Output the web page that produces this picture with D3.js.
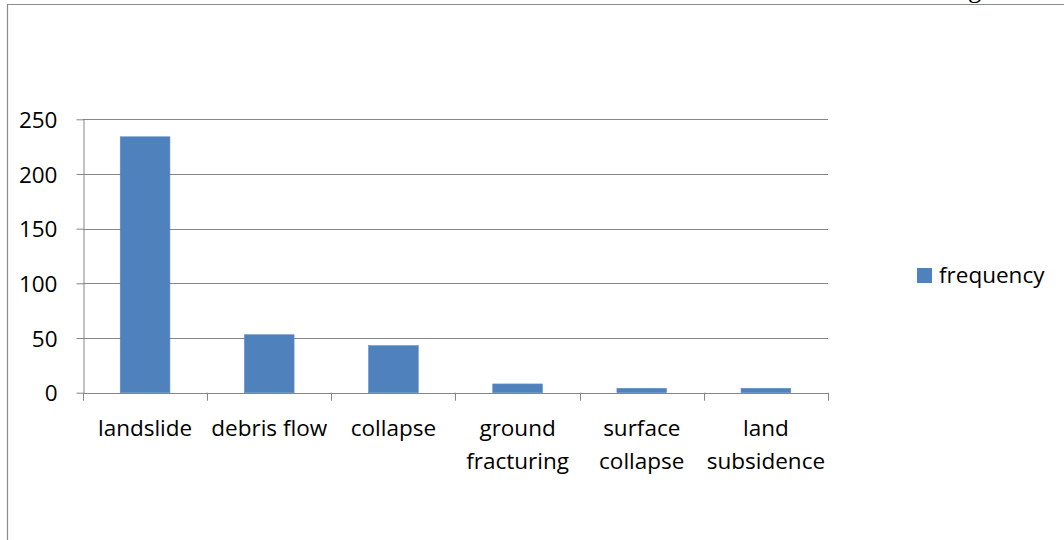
<!DOCTYPE html>
<html>
<head>
<meta charset="utf-8">
<script src="https://cdn.jsdelivr.net/npm/d3@7"></script>
<style>
  body { margin: 0; background: #fff; }
  svg { display: block; }
  text { font-family: "Open Sans", Lato, sans-serif; fill: #000; }
</style>
</head>
<body>
<svg id="chart" width="1064" height="540"></svg>
<script>
// Geohazard counts by type
const categories = ["landslide", "debris flow", "collapse", "ground fracturing", "surface collapse", "land subsidence"];
const frequency = [234, 53, 43, 8, 4, 4];
const yTicks = [0, 50, 100, 150, 200, 250];
const seriesName = "frequency";

const W = 1064, H = 540;
const plot = { left: 83, right: 828, top: 119.3, bottom: 392.7 };
const barColor = "#4f81bd";
const lineColor = "#868686";
const fontSize = 22.5;

const svg = d3.select("#chart");

// Frame lines along the top and left of the chart area
svg.append("path")
  .attr("d", `M7.5,${H} V4.5 H${W}`)
  .attr("fill", "none")
  .attr("stroke", "#8c8c8c")
  .attr("stroke-width", 1.2);

// Fragment of a caption line above the frame
svg.append("text")
  .attr("x", 968).attr("y", -3)
  .style("font-family", "'Liberation Serif', serif")
  .style("font-size", "27px")
  .text("g");

const x = d3.scaleBand()
  .domain(categories)
  .range([plot.left, plot.right])
  .paddingInner(0.6)
  .paddingOuter(0.3);

const y = d3.scaleLinear()
  .domain([0, 250])
  .range([plot.bottom, plot.top]);

// Horizontal gridlines
svg.append("g")
  .selectAll("line")
  .data(yTicks.filter(d => d > 0))
  .join("line")
  .attr("x1", plot.left).attr("x2", plot.right)
  .attr("y1", d => Math.round(y(d)) + 0.5)
  .attr("y2", d => Math.round(y(d)) + 0.5)
  .attr("stroke", lineColor)
  .attr("stroke-width", 1);

// Bars
svg.append("g")
  .selectAll("rect")
  .data(categories.map((c, i) => ({ c, v: frequency[i] })))
  .join("rect")
  .attr("x", d => x(d.c))
  .attr("width", x.bandwidth())
  .attr("y", d => y(d.v))
  .attr("height", d => y(0) - y(d.v))
  .attr("fill", barColor)
  .attr("stroke", "#5b8bc4")
  .attr("stroke-width", 0.6);

// Value axis
const yAxis = svg.append("g")
  .attr("transform", `translate(${plot.left + 0.5},0)`)
  .call(d3.axisLeft(y).tickValues(yTicks).tickSize(7).tickSizeOuter(0).tickPadding(19));
yAxis.selectAll("path, line").attr("stroke", lineColor);
yAxis.selectAll("text")
  .style("font-family", "'Open Sans', sans-serif")
  .style("font-size", fontSize + "px")
  .attr("dy", "0.36em")
  .attr("fill", "#000");

// Category axis: baseline with tick marks between categories
const gap = (x.step() - x.bandwidth()) / 2;
const bounds = categories.map(c => x(c) - gap).concat([x(categories[categories.length - 1]) + x.bandwidth() + gap]);
const xAxis = svg.append("g");
xAxis.append("line")
  .attr("x1", plot.left).attr("x2", plot.right)
  .attr("y1", Math.round(y(0)) + 0.5).attr("y2", Math.round(y(0)) + 0.5)
  .attr("stroke", lineColor);
xAxis.selectAll("line.tick")
  .data(bounds)
  .join("line")
  .attr("class", "tick")
  .attr("x1", d => Math.round(d) + 0.5).attr("x2", d => Math.round(d) + 0.5)
  .attr("y1", y(0)).attr("y2", y(0) + 8)
  .attr("stroke", lineColor);

// Category labels, wrapped onto two lines when wider than a category slot
const labels = xAxis.selectAll("text.cat")
  .data(categories)
  .join("text")
  .attr("class", "cat")
  .attr("text-anchor", "middle")
  .style("font-size", fontSize + "px")
  .attr("x", d => x(d) + x.bandwidth() / 2)
  .attr("y", 436);
labels.each(function (d) {
  const t = d3.select(this);
  t.text(d);
  if (this.getComputedTextLength() > x.step()) {
    t.text(null);
    d.split(" ").forEach((w, i) => {
      t.append("tspan")
        .attr("x", x(d) + x.bandwidth() / 2)
        .attr("dy", i === 0 ? 0 : 33)
        .text(w);
    });
  }
});

// Legend
const legend = svg.append("g").attr("transform", "translate(917,268)");
legend.append("rect")
  .attr("width", 15).attr("height", 15)
  .attr("fill", barColor);
legend.append("text")
  .attr("x", 22).attr("y", 15)
  .style("font-size", fontSize + "px")
  .text(seriesName);
</script>
</body>
</html>
